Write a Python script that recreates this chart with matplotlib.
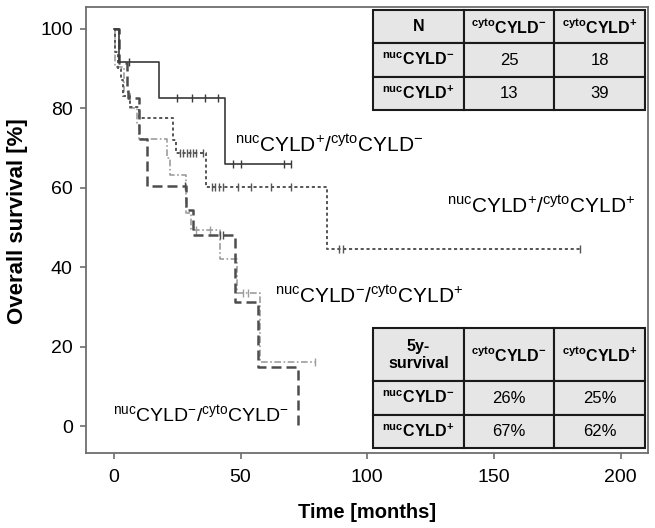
import matplotlib.pyplot as plt
import numpy as np

plt.rcParams['font.family'] = 'Liberation Sans'
plt.rcParams['mathtext.fontset'] = 'custom'
plt.rcParams['mathtext.rm'] = 'Liberation Sans'
plt.rcParams['mathtext.it'] = 'Liberation Sans:italic'
plt.rcParams['mathtext.bf'] = 'Liberation Sans:bold'

# Kaplan-Meier steps (months, % survival)
# nucCYLD+/cytoCYLD- (solid)
pm_t = [0, 2, 18, 44, 70]
pm_s = [100, 91.7, 82.5, 66, 66]
pm_cens = [6, 25, 31, 36, 41, 47, 50, 67, 70]

# nucCYLD+/cytoCYLD+ (dotted)
pp_t = [0, 0.3, 1.5, 3, 3.7, 6.3, 10, 23.2, 24.5, 36.5, 84, 184]
pp_s = [100, 94.3, 90, 87, 83, 80.4, 77.5, 72, 68.8, 60.3, 44.6, 44.6]
pp_cens = [26, 27.4, 28.7, 30, 31.3, 32.6, 35.3, 38.6, 40, 41.5, 43, 49, 54, 62, 70,
           89, 90.5, 184]

# nucCYLD-/cytoCYLD- (dashed)
mm_t = [0, 2, 5, 5.5, 10, 12.9, 28.4, 31.3, 47.8, 57, 72.8]
mm_s = [100, 91.4, 85.5, 82.6, 72.2, 60.5, 54.4, 48.1, 31.3, 14.9, 0]
mm_cens = [28, 41.8, 43.1]

# nucCYLD-/cytoCYLD+ (light grey dash-dot)
mp_t = [0, 0.5, 4, 6.5, 9, 10, 20.8, 22, 28.5, 30.5, 41.8, 48.5, 57.6, 79.4]
mp_s = [100, 90.5, 84, 80, 76, 72.2, 67.4, 63.2, 53.6, 49.4, 42, 33.4, 16, 16]
mp_cens = [32.6, 37.9, 51, 53, 79.4]

# tables
col_heads = ['', r'$^{\mathbf{cyto}}\mathbf{CYLD}^{\mathbf{-}}$',
             r'$^{\mathbf{cyto}}\mathbf{CYLD}^{\mathbf{+}}$']
row_heads = [r'$^{\mathbf{nuc}}\mathbf{CYLD}^{\mathbf{-}}$',
             r'$^{\mathbf{nuc}}\mathbf{CYLD}^{\mathbf{+}}$']
n_vals = [['25', '18'], ['13', '39']]
surv_vals = [['26%', '25%'], ['67%', '62%']]


def step_at(t, s, c):
    idx = np.searchsorted(t, c, side='right') - 1
    return np.array(s)[idx]


fig = plt.figure(figsize=(6.55, 5.28), dpi=100)
ax = fig.add_axes([0.1313, 0.142, 0.858, 0.8447])

series = [
    (mp_t, mp_s, mp_cens, '#9d9d9d', (0, (4, 1.5, 1, 1.5)), 1.2),
    (mm_t, mm_s, mm_cens, '#4d4d4d', (0, (4, 2)), 1.8),
    (pp_t, pp_s, pp_cens, '#555555', (0, (1.6, 1.4)), 1.4),
    (pm_t, pm_s, pm_cens, '#3a3a3a', '-', 1.2),
]
for t, s, cens, col, ls, lw in series:
    ax.step(t, s, where='post', color=col, linestyle=ls, linewidth=lw)
    ax.plot(cens, step_at(t, s, cens), linestyle='none', marker='|',
            markersize=6, markeredgewidth=1, color=col)

label_fs = 15
ax.text(47.8, 69, r'$^{\rm nuc}$CYLD$^{+}$/$^{\rm cyto}$CYLD$^{-}$', fontsize=label_fs)
ax.text(131.5, 53.7, r'$^{\rm nuc}$CYLD$^{+}$/$^{\rm cyto}$CYLD$^{+}$', fontsize=label_fs)
ax.text(63.6, 31, r'$^{\rm nuc}$CYLD$^{-}$/$^{\rm cyto}$CYLD$^{+}$', fontsize=label_fs)
ax.text(-0.4, 1, r'$^{\rm nuc}$CYLD$^{-}$/$^{\rm cyto}$CYLD$^{-}$', fontsize=14)


def draw_table(corner, vals, bbox, head_h):
    rows = [[corner] + col_heads[1:]]
    for lab, v in zip(row_heads, vals):
        rows.append([lab] + v)
    tab = ax.table(cellText=rows, cellLoc='center', bbox=bbox)
    tab.auto_set_font_size(False)
    tab.set_fontsize(12)
    for (r, c), cell in tab.get_celld().items():
        cell.set_facecolor('#e6e6e6')
        cell.set_edgecolor('#1a1a1a')
        cell.set_linewidth(1.5)
        cell.set_height(head_h if r == 0 else 1.0)
        if r == 0 or c == 0:
            cell.get_text().set_fontweight('bold')
            cell.get_text().set_fontsize(11.5)
    return tab


draw_table('N', n_vals, [0.5107, 0.769, 0.484, 0.224], 1.0)
draw_table('5y-\nsurvival', surv_vals, [0.5107, 0.011, 0.484, 0.269], 1.6)

ax.set_xlim(-11, 210.8)
ax.set_ylim(-6.8, 105.5)
ax.set_xticks([0, 50, 100, 150, 200])
ax.set_yticks([0, 20, 40, 60, 80, 100])
for sp in ax.spines.values():
    sp.set_color('#6e6e6e')
    sp.set_linewidth(1.3)
ax.tick_params(direction='out', length=4.5, width=1.2, color='#6e6e6e', labelsize=14)
ax.tick_params(axis='x', pad=7)
ax.tick_params(axis='y', pad=5)
ax.set_xlabel('Time [months]', fontsize=14.5, fontweight='bold')
ax.set_ylabel('Overall survival [%]', fontsize=16, fontweight='bold')
ax.xaxis.set_label_coords(0.5, -0.112)
ax.yaxis.set_label_coords(-0.104, 0.52)

fig.savefig('out.png', dpi=100)
